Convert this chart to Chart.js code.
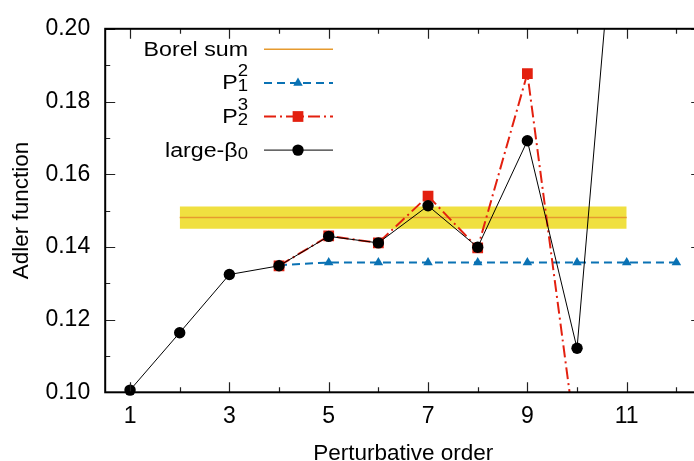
<!DOCTYPE html>
<html>
<head>
<meta charset="utf-8">
<script src="https://cdn.jsdelivr.net/npm/chart.js@4.4.1/dist/chart.umd.min.js"></script>
<style>
  html, body { margin: 0; padding: 0; background: #fff; overflow: hidden; }
  #wrap { width: 710px; height: 461px; }
</style>
</head>
<body>
<div id="wrap"><canvas id="graficoAdler" width="710" height="461"></canvas></div>
<script>
// dados
const ordens = [1, 2, 3, 4, 5, 6, 7, 8, 9, 10, 11, 12];
const largeBeta0 = [0.1006, 0.1164, 0.1324, 0.1348, 0.1429, 0.1411, 0.1513, 0.1399, 0.1692, 0.1121, 0.2720, null];
const pade32 = [null, null, null, 0.1348, 0.1430, 0.1411, 0.1540, 0.1397, 0.1877, 0.0845, null, null];
const pade21 = [null, null, null, 0.1350, 0.1357, 0.1357, 0.1357, 0.1357, 0.1357, 0.1357, 0.1357, 0.1357];
const borelOrdens = [2, 11];
const borelCentral = [0.1481, 0.1481];
const borelMin = [0.1450, 0.1450];
const borelMax = [0.1511, 0.1511];
const xTickLabels = ["1", "3", "5", "7", "9", "11"];
const yTickLabels = ["0.10", "0.12", "0.14", "0.16", "0.18", "0.20"];

const FONTE = "'Liberation Sans', Arial, sans-serif";

function pontos(xs, ys) {
  return xs.map((x, i) => ({ x: x, y: ys[i] })).filter(p => p.y !== null);
}

// ---------------------------------------------------------------------------
// Moldura com ticks para dentro (estilo gnuplot)
// ---------------------------------------------------------------------------
const molduraPlugin = {
  id: "moldura",
  afterDatasetsDraw(chart) {
    const ctx = chart.ctx;
    const a = chart.chartArea;
    const xs = chart.scales.x;
    const ys = chart.scales.y;
    ctx.save();
    ctx.strokeStyle = "#222";
    ctx.lineWidth = 1.2;
    xs.ticks.forEach(t => {
      const px = Math.round(xs.getPixelForValue(t.value)) + 0.5;
      const len = xTickLabels.includes(String(t.value)) ? 10 : 5;
      ctx.beginPath();
      ctx.moveTo(px, a.bottom); ctx.lineTo(px, a.bottom - len);
      ctx.moveTo(px, a.top); ctx.lineTo(px, a.top + len);
      ctx.stroke();
    });
    ys.ticks.forEach(t => {
      const py = Math.round(ys.getPixelForValue(t.value)) + 0.5;
      const len = yTickLabels.includes(t.value.toFixed(2)) ? 10 : 5;
      ctx.beginPath();
      ctx.moveTo(a.left, py); ctx.lineTo(a.left + len, py);
      ctx.moveTo(a.right, py); ctx.lineTo(a.right - len, py);
      ctx.stroke();
    });
    ctx.strokeStyle = "#000";
    ctx.lineWidth = 2;
    ctx.strokeRect(a.left, a.top, a.right - a.left, a.bottom - a.top);
    ctx.restore();
  }
};

// ---------------------------------------------------------------------------
// Legenda desenhada à mão (precisa de sub/sobrescrito)
// ---------------------------------------------------------------------------
const ESTICA = 1.16;

function textoEsticado(ctx, txt, xDir, yBase, fonte) {
  ctx.save();
  ctx.font = fonte;
  ctx.textAlign = "right";
  ctx.textBaseline = "alphabetic";
  ctx.translate(xDir, yBase);
  ctx.scale(ESTICA, 1);
  ctx.fillText(txt, 0, 0);
  ctx.restore();
}

const legendaPlugin = {
  id: "legendaGnuplot",
  afterDraw(chart) {
    const ctx = chart.ctx;
    const linhas = [
      { y: 49.3, txt: "Borel sum", ds: 3 },
      { y: 82.9, txt: "P", sup: "2", sub: "1", ds: 2 },
      { y: 116.5, txt: "P", sup: "3", sub: "2", ds: 1 },
      { y: 150.1, txt: "large-\u03b2", sub: "0", ds: 0 }
    ];
    const xTexto = 248;
    const x0 = 264, x1 = 333, xm = 298;
    const fonteMain = "20px " + FONTE;
    const fonteMini = "16px " + FONTE;
    ctx.save();
    ctx.fillStyle = "#000";
    linhas.forEach(l => {
      if (l.sup || l.sub) {
        ctx.font = fonteMini;
        const wSup = l.sup ? ctx.measureText(l.sup).width : 0;
        const wSub = l.sub ? ctx.measureText(l.sub).width : 0;
        const w = Math.max(wSup, wSub) * ESTICA;
        if (l.sup) textoEsticado(ctx, l.sup, xTexto, l.y - 7, fonteMini);
        if (l.sub) textoEsticado(ctx, l.sub, xTexto, l.y + 8.5, fonteMini);
        textoEsticado(ctx, l.txt, xTexto - w, l.y + 6.5, fonteMain);
      } else {
        textoEsticado(ctx, l.txt, xTexto, l.y + 7, fonteMain);
      }
      const d = chart.data.datasets[l.ds];
      ctx.save();
      ctx.strokeStyle = d.borderColor;
      ctx.lineWidth = d.borderWidth;
      ctx.setLineDash(d.borderDash || []);
      ctx.beginPath();
      ctx.moveTo(x0, l.y); ctx.lineTo(x1, l.y);
      ctx.stroke();
      ctx.setLineDash([]);
      if (d.pointRadius > 0) {
        ctx.fillStyle = d.pointBackgroundColor;
        Chart.helpers.drawPoint(ctx, { pointStyle: d.pointStyle, radius: d.pointRadius, rotation: 0, borderWidth: 0 }, xm, l.y);
      }
      ctx.restore();
    });
    ctx.restore();
  }
};

const ctx = document.getElementById("graficoAdler").getContext("2d");

new Chart(ctx, {
  type: "line",
  data: {
    datasets: [
      {
        label: "large-beta0",
        data: pontos(ordens, largeBeta0),
        borderColor: "#000000",
        borderWidth: 1,
        pointStyle: "circle",
        pointRadius: 5.7,
        pointBackgroundColor: "#000000",
        pointBorderWidth: 0,
        clip: { left: 8, right: 8, top: 0, bottom: 8 },
        order: 1
      },
      {
        label: "P32",
        data: pontos(ordens, pade32),
        borderColor: "#e3200f",
        borderWidth: 2,
        borderDash: [12, 4, 2, 4],
        pointStyle: "rect",
        pointRadius: 7.6,
        pointBackgroundColor: "#e3200f",
        pointBorderWidth: 0,
        clip: { left: 8, right: 8, top: 8, bottom: 0 },
        order: 2
      },
      {
        label: "P21",
        data: pontos(ordens, pade21),
        borderColor: "#0a72b4",
        borderWidth: 2,
        borderDash: [8, 5],
        pointStyle: "triangle",
        pointRadius: 5.5,
        pointBackgroundColor: "#0a72b4",
        pointBorderWidth: 0,
        order: 3
      },
      {
        label: "Borel sum",
        data: pontos(borelOrdens, borelCentral),
        borderColor: "#e69a2e",
        borderWidth: 1.5,
        pointRadius: 0,
        order: 4
      },
      {
        label: "Borel max",
        data: pontos(borelOrdens, borelMax),
        borderWidth: 0,
        pointRadius: 0,
        backgroundColor: "#f0e040",
        fill: "+1",
        order: 6
      },
      {
        label: "Borel min",
        data: pontos(borelOrdens, borelMin),
        borderWidth: 0,
        pointRadius: 0,
        fill: false,
        order: 7
      }
    ]
  },
  options: {
    responsive: false,
    animation: false,
    layout: { padding: { left: 0, right: 8.8, top: 21.7, bottom: 0 } },
    plugins: {
      legend: { display: false },
      tooltip: { enabled: false }
    },
    scales: {
      x: {
        type: "linear",
        min: 0.5,
        max: 12.5,
        afterBuildTicks: s => { s.ticks = ordens.map(v => ({ value: v })); },
        afterFit: s => { s.height = 68.7; },
        grid: { display: false, drawTicks: false },
        border: { display: false },
        ticks: {
          padding: 11,
          maxRotation: 0,
          autoSkip: false,
          color: "#000",
          font: { family: FONTE, size: 23 },
          callback: v => (xTickLabels.includes(String(v)) ? String(v) : "")
        },
        title: {
          display: true,
          text: "Perturbative order",
          color: "#000",
          padding: { top: 0, bottom: -4 },
          font: { family: FONTE, size: 22.5, lineHeight: 1 }
        }
      },
      y: {
        min: 0.1,
        max: 0.2,
        afterBuildTicks: s => {
          const t = [];
          for (let i = 0; i <= 10; i++) t.push({ value: +(0.1 + i * 0.01).toFixed(2) });
          s.ticks = t;
        },
        afterFit: s => { s.width = 105.2; },
        grid: { display: false, drawTicks: false },
        border: { display: false },
        ticks: {
          padding: 15,
          autoSkip: false,
          color: "#000",
          font: { family: FONTE, size: 23 },
          callback: v => {
            const s = Number(v).toFixed(2);
            return yTickLabels.includes(s) ? s : "";
          }
        },
        title: {
          display: true,
          text: "Adler function",
          color: "#000",
          padding: { top: 10.5, bottom: 0 },
          font: { family: FONTE, size: 22.5, lineHeight: 1 }
        }
      }
    }
  },
  plugins: [molduraPlugin, legendaPlugin]
});
</script>
</body>
</html>
